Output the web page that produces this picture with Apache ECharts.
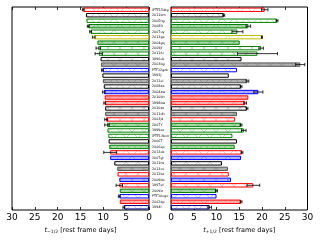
<!DOCTYPE html>
<html><head><meta charset="utf-8">
<script src="https://cdn.jsdelivr.net/npm/echarts@6/dist/echarts.min.js"></script>
<style>html,body{margin:0;padding:0;background:#fff}#c{width:320px;height:240px}</style>
</head><body><div id="c"></div>
<script>
// ---- data ----
var names = ['iPTF15dtg','2011bm','2005hg','2008D','2007uy','2013ge','2004gq','2009jf','2011fu','1996cb',
  '2003bg','PTF12gzk','1993J','2011ei','2008ax','2004aw','2010bh','1998bw','2010as','2011dh',
  '2003jd','2007Y','1999ex','iPTF13bvn','2006T','2006ep','2013dx','2007gr','2011hs','2013cu',
  '2012bz','2009bb','1997ef','2009iz','PTF10vgv','2002ap','1994I'];
var tMinus = [14.4,13.8,13.7,13.3,12.8,12.1,11.3,11.1,11.0,10.6,
  10.5,10.2,10.2,10.1,9.9,9.9,9.7,9.7,9.6,9.6,
  9.4,9.2,9.1,8.9,8.85,8.7,8.5,8.5,7.6,6.95,
  6.9,6.5,6.5,6.4,6.5,6.4,5.5];
var tMinusErr = [0.2,0,0,0.2,0.2,0.3,0,0.5,0.8,0,
  0,0.2,0,0,0,0.3,0,0.2,0,0,
  0.3,0.5,0,0,0,0,1.4,0,0,0,
  0,0,0.7,0,0.2,0,0.2];
var tPlus = [20.6,11.6,23.3,17.0,14.6,20.0,15.1,19.8,19.0,15.5,
  28.4,14.5,12.7,16.8,15.4,19.2,17.0,16.3,16.7,14.5,
  14.1,15.4,16.0,13.5,14.5,14.0,15.6,15.4,11.2,12.5,
  12.7,13.2,18.1,10.0,10.0,15.4,8.5];
var tPlusErr = [0.7,0.2,0.2,0.5,1.2,0.1,0,0.5,4.4,0,
  1.0,0,0,0.3,0.2,1.0,0,0.3,0.2,0,
  0,0.2,0.5,0,0,0,0.2,0,0,0,
  0,0,1.4,0.2,0,0.2,0.4];
var ticks = [0,5,10,15,20,25,30];

// ---- per-row appearance (colour family, fill kind) ----
var rowColor = ['r','k','g','g','g','y','g','g','g','k',
  'gr','b','k','gr','k','b','r','r','k','gr',
  'r','g','g','g','k','g','r','b','k','gr',
  'r','b','r','g','b','r','n'];
var rowKind = ['h','h','h','f','h','h','f','h','h','h',
  'f','h','p','f','h','f','f','f','h','f',
  'h','f','h','h','p','f','h','f','h','f',
  'h','f','h','f','h','f','h'];
var pal = {
  r:{edge:'#ff0000', light:'#ffa8a8', fill:'#ffb0b0', hatch:'#ff8080'},
  k:{edge:'#000000', light:'#b8b8b8', fill:'#e0e0e0', hatch:'#999999'},
  gr:{edge:'#555555', light:'#aaaaaa', fill:'#b0b0b0', hatch:'#808080'},
  g:{edge:'#008000', light:'#99cc99', fill:'#a8d8a8', hatch:'#66b366'},
  y:{edge:'#bfbf00', light:'#e8e890', fill:'#eeee99', hatch:'#d8d860'},
  b:{edge:'#0000ff', light:'#a8a8ff', fill:'#b0b0ff', hatch:'#8080ff'},
  n:{edge:'#000080', light:'#a8a8ff', fill:'#b0b0ff', hatch:'#8080ff'}
};
function pattern(bg, line){
  var s = 12;
  var c = document.createElement('canvas'); c.width = s; c.height = s;
  var g = c.getContext('2d');
  g.fillStyle = bg; g.fillRect(0,0,s,s);
  g.strokeStyle = line; g.lineWidth = 0.6;
  g.beginPath(); g.moveTo(0,0); g.lineTo(s,s); g.moveTo(s,0); g.lineTo(0,s); g.stroke();
  return {image: c, repeat: 'repeat'};
}
function styleFor(i){
  var p = pal[rowColor[i]], k = rowKind[i];
  if (k === 'p') return {color:'#ffffff', borderColor:p.edge, borderWidth:1};
  if (k === 'h') return {color:pattern('#ffffff', p.light), borderColor:p.edge, borderWidth:1};
  return {color:pattern(p.fill, p.hatch), borderColor:p.edge, borderWidth:1};
}
function barData(vals){ return vals.map(function(v,i){ return {value:v, itemStyle:styleFor(i)}; }); }
function errData(vals, errs){
  var out = [];
  vals.forEach(function(v,i){ if (errs[i] > 0) out.push([v-errs[i], v+errs[i], i]); });
  return out;
}
function errRender(params, api){
  var y = api.value(2);
  var a = api.coord([api.value(0), y]), b = api.coord([api.value(1), y]);
  var h = api.size([0,1])[1] * 0.3;
  var st = {stroke:'#000', lineWidth:0.8};
  return {type:'group', children:[
    {type:'line', shape:{x1:a[0],y1:a[1],x2:b[0],y2:b[1]}, style:st},
    {type:'line', shape:{x1:a[0],y1:a[1]-h,x2:a[0],y2:a[1]+h}, style:st},
    {type:'line', shape:{x1:b[0],y1:b[1]-h,x2:b[0],y2:b[1]+h}, style:st}
  ]};
}
var FONT = 'DejaVu Sans';
function xAx(grid, inverse, sub){
  return {type:'value', gridIndex:grid, min:0, max:30, interval:5, inverse:inverse,
    splitLine:{show:false}, axisLine:{show:false},
    axisTick:{show:true, inside:true, length:3, lineStyle:{color:'#000', width:0.8}},
    axisLabel:{fontFamily:FONT, fontSize:9, color:'#000', margin:3,
      formatter:function(v){ return ticks.indexOf(v) >= 0 ? String(v) : ''; }},
    name:'{t|t}{s|' + sub + '} [rest frame days]', nameLocation:'middle', nameGap:16,
    nameTextStyle:{fontFamily:FONT, fontSize:6.5, color:'#000',
      rich:{t:{fontStyle:'italic', fontSize:6.5, fontFamily:FONT}, s:{fontSize:4.5, fontFamily:FONT, verticalAlign:'bottom', padding:[3,0,0,0]}}}
  };
}
function xTop(grid, inverse){
  return {type:'value', gridIndex:grid, position:'top', min:0, max:30, interval:5, inverse:inverse,
    splitLine:{show:false}, axisLine:{show:false}, axisLabel:{show:false},
    axisTick:{show:true, inside:true, length:3, lineStyle:{color:'#000', width:0.8}}};
}
var chart = echarts.init(document.getElementById('c'), null, {renderer:'canvas'});
chart.setOption({
  animation:false,
  backgroundColor:'#fff',
  grid:[
    {left:12, width:137, top:7, height:203, show:true, borderColor:'#000', borderWidth:1, backgroundColor:'transparent'},
    {left:171, width:136.5, top:7, height:203, show:true, borderColor:'#000', borderWidth:1, backgroundColor:'transparent'}
  ],
  xAxis:[xAx(0,true,'−1/2'), xAx(1,false,'+1/2'), xTop(0,true), xTop(1,false)],
  yAxis:[
    {type:'category', gridIndex:0, data:names, inverse:true, position:'right',
      axisLine:{show:false}, axisTick:{show:false},
      axisLabel:{fontFamily:FONT, fontSize:3.3, color:'#000', margin:3, interval:0}},
    {type:'category', gridIndex:1, data:names, inverse:true,
      axisLine:{show:false}, axisTick:{show:false}, axisLabel:{show:false}}
  ],
  series:[
    {type:'bar', xAxisIndex:0, yAxisIndex:0, data:barData(tMinus), barWidth:'80%', z:2},
    {type:'bar', xAxisIndex:1, yAxisIndex:1, data:barData(tPlus), barWidth:'80%', z:2},
    {type:'custom', xAxisIndex:0, yAxisIndex:0, data:errData(tMinus,tMinusErr), renderItem:errRender, encode:{x:[0,1], y:2}, z:5},
    {type:'custom', xAxisIndex:1, yAxisIndex:1, data:errData(tPlus,tPlusErr), renderItem:errRender, encode:{x:[0,1], y:2}, z:5}
  ]
});
</script></body></html>
